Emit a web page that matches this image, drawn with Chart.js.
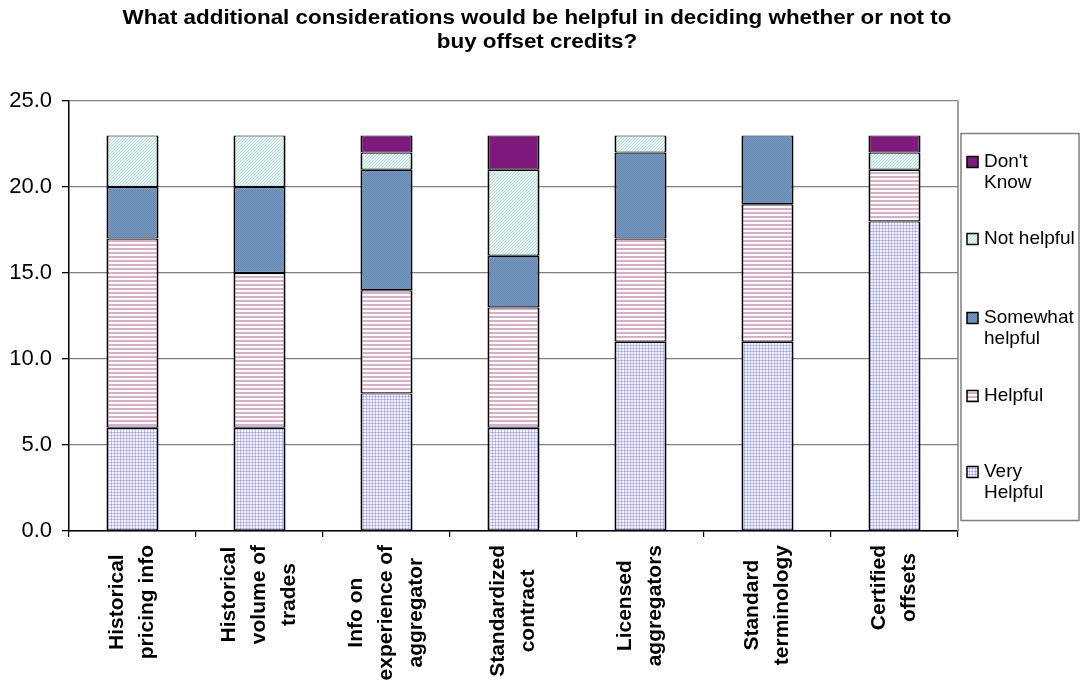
<!DOCTYPE html>
<html>
<head>
<meta charset="utf-8">
<script src="https://cdn.jsdelivr.net/npm/chart.js@4.4.1/dist/chart.umd.min.js"></script>
<style>
  html, body { margin: 0; padding: 0; background: #ffffff; }
  #wrap { width: 1081px; height: 681px; }
</style>
</head>
<body>
<div id="wrap"><canvas id="c" width="1081" height="681"></canvas></div>
<script>
// Survey answers per consideration (number of respondents)
const categories = [
  ["Historical", "pricing info"],
  ["Historical", "volume of", "trades"],
  ["Info on", "experience of", "aggregator"],
  ["Standardized", "contract"],
  ["Licensed", "aggregators"],
  ["Standard", "terminology"],
  ["Certified", "offsets"]
];
const veryHelpful     = [6, 6, 8, 6, 11, 11, 18];
const helpful         = [11, 9, 6, 7, 6, 8, 3];
const somewhatHelpful = [3, 5, 7, 3, 5, 4, 0];
const notHelpful      = [3, 3, 1, 5, 1, 0, 1];
const dontKnow        = [0, 0, 1, 2, 0, 0, 1];

const seriesNames = [["Very", "Helpful"], ["Helpful"], ["Somewhat", "helpful"], ["Not helpful"], ["Don't", "Know"]];
const yTickValues = [0, 5, 10, 15, 20, 25];
const titleLines = [
  "What additional considerations would be helpful in deciding whether or not to",
  "buy offset credits?"
];

const FONT = "'Liberation Sans', Arial, Helvetica, sans-serif";
const canvas = document.getElementById('c');
const ctx = canvas.getContext('2d');

// Small tiled fills for each answer
function makePattern(w, h, draw) {
  const t = document.createElement('canvas');
  t.width = w; t.height = h;
  draw(t.getContext('2d'));
  return ctx.createPattern(t, 'repeat');
}
const fillVeryHelpful = makePattern(3, 3, g => {
  g.fillStyle = '#f4f4ff'; g.fillRect(0, 0, 3, 3);
  g.fillStyle = '#c2c2ff'; g.fillRect(0, 0, 3, 1); g.fillRect(0, 0, 1, 3);
  g.fillStyle = '#9a9aff'; g.fillRect(0, 0, 1, 1);
});
const fillHelpful = makePattern(4, 4, g => {
  g.fillStyle = '#ffffff'; g.fillRect(0, 0, 4, 4);
  g.fillStyle = '#dbaec6'; g.fillRect(0, 0, 4, 2);
});
const fillSomewhat = makePattern(2, 2, g => {
  g.fillStyle = '#7598c0'; g.fillRect(0, 0, 2, 2);
  g.fillStyle = '#6689b4'; g.fillRect(0, 0, 1, 1); g.fillRect(1, 1, 1, 1);
});
const fillNotHelpful = makePattern(3, 3, g => {
  g.fillStyle = '#e4f3f1'; g.fillRect(0, 0, 3, 3);
  g.fillStyle = '#bddfdb';
  for (let i = 0; i < 3; i++) g.fillRect(i, 2 - i, 1, 1);
});
const fillDontKnow = '#7e1a7e';

const seriesFills = [fillVeryHelpful, fillHelpful, fillSomewhat, fillNotHelpful, fillDontKnow];
const seriesData = [veryHelpful, helpful, somewhatHelpful, notHelpful, dontKnow];

const datasets = seriesData.map((d, i) => ({
  label: seriesNames[i].join(' '),
  data: d,
  backgroundColor: seriesFills[i],
  borderColor: '#000000',
  borderWidth: { top: 1.2, bottom: 1.2, left: 2, right: 2 },
  borderSkipped: false,
  categoryPercentage: 1.0,
  barPercentage: 0.41
}));

// Title drawn centred over the whole figure, slightly widened
const titlePlugin = {
  id: 'figTitle',
  afterDraw(chart) {
    const c = chart.ctx;
    c.save();
    c.fillStyle = '#000';
    c.font = `bold 20px ${FONT}`;
    c.textAlign = 'center';
    c.textBaseline = 'middle';
    titleLines.forEach((t, i) => {
      c.save();
      c.translate(537, 18 + i * 24);
      c.scale(1.12, 1);
      c.fillText(t, 0, 0);
      c.restore();
    });
    c.restore();
  }
};

// Rotated, centre-aligned category labels under the axis
const xLabelPlugin = {
  id: 'xLabels',
  afterDraw(chart) {
    const c = chart.ctx;
    const xs = chart.scales.x;
    const base = chart.chartArea.bottom + 14;
    c.save();
    c.fillStyle = '#000';
    c.font = `bold 21px ${FONT}`;
    c.textAlign = 'center';
    c.textBaseline = 'middle';
    categories.forEach((lines, i) => {
      const cx = xs.getPixelForValue(i);
      const maxW = Math.max(...lines.map(l => c.measureText(l).width));
      const cy = base + maxW / 2;
      lines.forEach((l, j) => {
        const lx = cx + (j - (lines.length - 1) / 2) * 30;
        c.save();
        c.translate(lx, cy);
        c.rotate(-Math.PI / 2);
        c.fillText(l, 0, 0);
        c.restore();
      });
    });
    c.restore();
  }
};

// Plot frame on the right and the boxed legend
const framePlugin = {
  id: 'frameLegend',
  afterDraw(chart) {
    const c = chart.ctx;
    const a = chart.chartArea;
    c.save();
    c.strokeStyle = '#808080';
    c.lineWidth = 1.5;
    c.beginPath();
    c.moveTo(a.right, a.top);
    c.lineTo(a.right, a.bottom);
    c.stroke();

    // legend box
    c.strokeRect(961, 133.5, 118, 387);
    const itemY = [472, 396, 318, 239, 162];
    c.font = `19px ${FONT}`;
    c.textAlign = 'left';
    c.textBaseline = 'middle';
    for (let i = 4; i >= 0; i--) {
      const y = itemY[i];
      c.fillStyle = seriesFills[i];
      c.fillRect(967, y - 5.5, 11, 11);
      c.strokeStyle = '#000';
      c.lineWidth = 1.5;
      c.strokeRect(967, y - 5.5, 11, 11);
      c.fillStyle = '#000';
      seriesNames[i].forEach((t, j) => c.fillText(t, 984, y + j * 21));
    }
    c.restore();
  }
};

new Chart(canvas, {
  type: 'bar',
  data: { labels: categories, datasets },
  options: {
    responsive: false,
    animation: false,
    layout: { padding: { top: 101, right: 123, left: 0, bottom: 0 } },
    plugins: {
      legend: { display: false },
      title: { display: false },
      tooltip: { enabled: false }
    },
    scales: {
      x: {
        stacked: true,
        afterFit(s) { s.height = 150; },
        ticks: { display: false },
        grid: {
          offset: true,
          drawOnChartArea: false,
          drawTicks: true,
          tickLength: 6,
          tickColor: '#000',
          lineWidth: 1.2
        },
        border: { color: '#000', width: 1.5 }
      },
      y: {
        stacked: true,
        min: 0,
        max: 25,
        afterFit(s) { s.width = 69; },
        afterBuildTicks(s) { s.ticks = yTickValues.map(v => ({ value: v })); },
        ticks: {
          color: '#000',
          padding: 10,
          font: { family: FONT, size: 22 },
          callback: v => Number(v).toFixed(1)
        },
        grid: {
          color: '#808080',
          lineWidth: 1.3,
          tickColor: '#000',
          tickLength: 7
        },
        border: { color: '#000', width: 1.5 }
      }
    }
  },
  plugins: [titlePlugin, xLabelPlugin, framePlugin]
});
</script>
</body>
</html>
